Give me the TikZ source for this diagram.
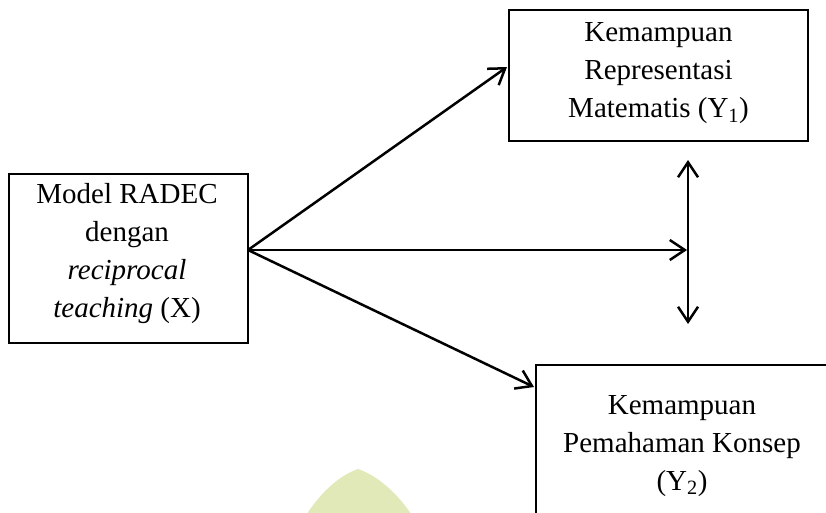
\documentclass[tikz,border=0pt]{standalone}
\usepackage{fontspec}
\setmainfont{Liberation Serif}
\usetikzlibrary{arrows.meta}
\definecolor{wmark}{HTML}{E1E9B9}
\tikzset{
  box/.style={draw=black, line width=2.8pt, rectangle, inner sep=0pt},
  lbl/.style={align=center, inner sep=0pt, anchor=base, font=\fontsize{29}{38}\selectfont},
  tip/.style={},
  arr/.style={line width=2.5pt, -{Straight Barb[length=15pt,width=20pt,line width=2.5pt]}},
  darr/.style={line width=2.5pt, {Straight Barb[length=15pt,width=20pt,line width=2.5pt]}-{Straight Barb[length=15pt,width=20pt,line width=2.5pt]}}
}
\begin{document}
\begin{tikzpicture}[x=1pt,y=-1pt]
\useasboundingbox (0,0) rectangle (826,513);
\begin{scope}
\clip (0,0) rectangle (826,513);
% watermark
\fill[wmark] (300,525) .. controls (318,494) and (338,476) .. (358,469)
  .. controls (378,476) and (400,494) .. (418,525) -- cycle;
% boxes
\node[box, minimum width=239pt, minimum height=169pt] (x) at (128.5,258.5) {};
\node[box, minimum width=299pt, minimum height=131pt] (y1) at (658.5,75.5) {};
\node[box, minimum width=340pt, minimum height=200pt] (y2) at (706,465) {};
\end{scope}
% texts
\node[lbl] (tx) at (127,317) {Model RADEC\\dengan\\\textit{reciprocal}\\\textit{teaching} (X)};
\node[lbl] (ty1) at (658.5,118) {Kemampuan\\Representasi\\Matematis (Y\textsubscript{1})};
\node[lbl] (ty2) at (682,490) {Kemampuan\\Pemahaman Konsep\\(Y\textsubscript{2})};
% connectors
\coordinate (s) at (248,250);
\coordinate (t1) at (507,67);
\coordinate (t2) at (534,387);
\coordinate (t3) at (687,250);
\coordinate (vt) at (688,160);
\coordinate (vb) at (688,324);
\draw[arr] (s) -- (t1);
\draw[arr] (s) -- (t2);
\draw[arr] (s) -- (t3);
\draw[darr] (vt) -- (vb);
\end{tikzpicture}
\end{document}
